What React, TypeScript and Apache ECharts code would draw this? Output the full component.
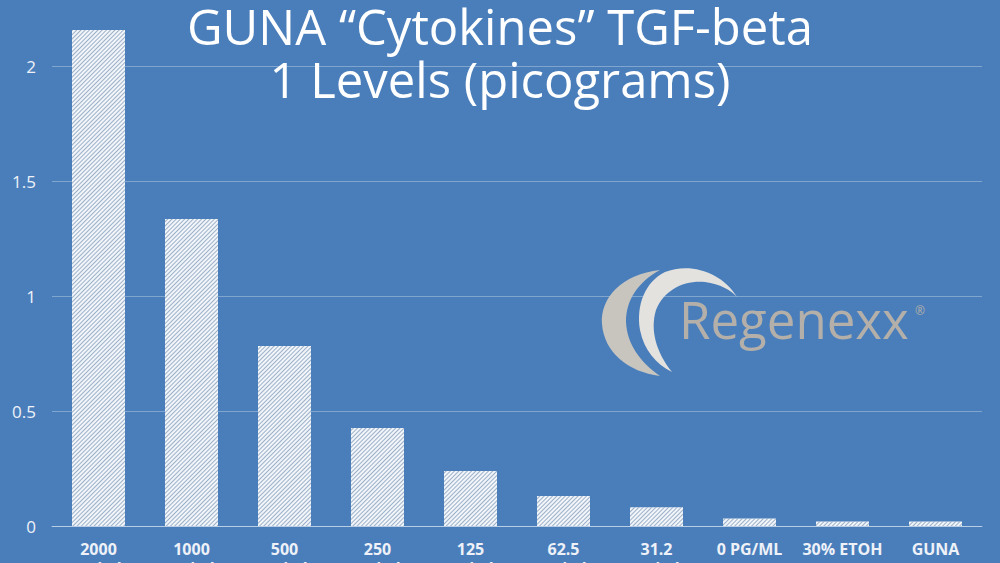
import React, { useEffect, useRef } from "react";
import * as echarts from "echarts";

const categories = ["2000\npg/ml", "1000\npg/ml", "500\npg/ml", "250\npg/ml", "125\npg/ml", "62.5\npg/ml", "31.2\npg/ml", "0 PG/ML", "30% ETOH", "GUNA"];
const values = [2.157, 1.335, 0.783, 0.426, 0.239, 0.13, 0.081, 0.033, 0.02, 0.02];
const titleLines = ["GUNA \u201cCytokines\u201d TGF-beta", "1 Levels (picograms)"];
const logoText = "Regenexx";

const crescentA = "M 660 270 C 622 274 600 298 602 324 C 604 352 628 372 660 376 C 640 362 627 344 626 322 C 626 300 638 282 660 270 Z";
const crescentB = "M 737 297 C 722 272 690 262 665 272 C 645 282 636 305 640 330 C 644 350 656 364 672 372 C 656 352 650 330 656 310 C 664 290 684 280 705 282 C 720 284 731 290 737 297 Z";

let registered = false;
function registerShapes() {
  if (registered) return;
  registered = true;
  echarts.graphic.registerShape("crescentA", echarts.graphic.extendPath(crescentA, {}) as any);
  echarts.graphic.registerShape("crescentB", echarts.graphic.extendPath(crescentB, {}) as any);
}

export default function App() {
  const ref = useRef<HTMLDivElement>(null);
  useEffect(() => {
    if (!ref.current) return;
    registerShapes();
    const chart = echarts.init(ref.current, undefined, { renderer: "svg" });
    chart.setOption({
      animation: false,
      backgroundColor: "#4a7ebb",
      grid: { left: 52, right: 18, top: -49, bottom: 37, containLabel: false, outerBoundsMode: "none" },
      xAxis: {
        type: "category",
        data: categories,
        axisLine: { lineStyle: { color: "rgba(255,255,255,0.45)", width: 1 } },
        axisTick: { show: false },
        axisLabel: {
          color: "#eef2f8",
          fontFamily: "Open Sans",
          fontWeight: "bold",
          fontSize: 16,
          margin: 13,
          interval: 0,
          lineHeight: 19,
        },
      },
      yAxis: {
        type: "value",
        min: 0,
        max: 2.5,
        interval: 0.5,
        axisLine: { show: false },
        axisTick: { show: false },
        splitLine: { lineStyle: { color: "rgba(255,255,255,0.3)", width: 1 } },
        axisLabel: {
          color: "#eef2f8",
          fontFamily: "Open Sans",
          fontSize: 17,
          margin: 16,
        },
      },
      series: [
        {
          type: "bar",
          data: values,
          barWidth: 53,
          itemStyle: {
            color: "#f2f5f9",
            decal: {
              symbol: "rect",
              symbolSize: 1,
              dashArrayX: [1, 0],
              dashArrayY: [1, 2],
              rotation: -Math.PI / 4,
              color: "rgba(110,140,175,0.65)",
            },
          },
        },
      ],
      graphic: [
        {
          type: "text",
          left: "center",
          top: 1,
          z: 10,
          style: {
            text: titleLines[0],
            fill: "#ffffff",
            fontFamily: "Open Sans",
            fontSize: 49,
          },
        },
        {
          type: "text",
          left: "center",
          top: 54,
          z: 10,
          style: {
            text: titleLines[1],
            fill: "#ffffff",
            fontFamily: "Open Sans",
            fontSize: 49,
          },
        },
        { type: "crescentA", x: 0, y: 0, z: 10, style: { fill: "#c8c5bf" } },
        { type: "crescentB", x: 0, y: 0, z: 10, style: { fill: "#e4e2de" } },
        {
          type: "text",
          x: 679,
          y: 293,
          z: 10,
          style: {
            text: logoText,
            fill: "#b4b0a9",
            fontFamily: "Open Sans",
            fontSize: 51,
          },
        },
        {
          type: "text",
          x: 915,
          y: 304,
          z: 10,
          style: { text: "\u00ae", fill: "#b4b0a9", fontFamily: "Open Sans", fontSize: 12 },
        },
      ],
    });
    return () => chart.dispose();
  }, []);
  return (
    <div
      ref={ref}
      style={{ position: "absolute", left: 0, top: 0, width: 1000, height: 563 }}
    />
  );
}
